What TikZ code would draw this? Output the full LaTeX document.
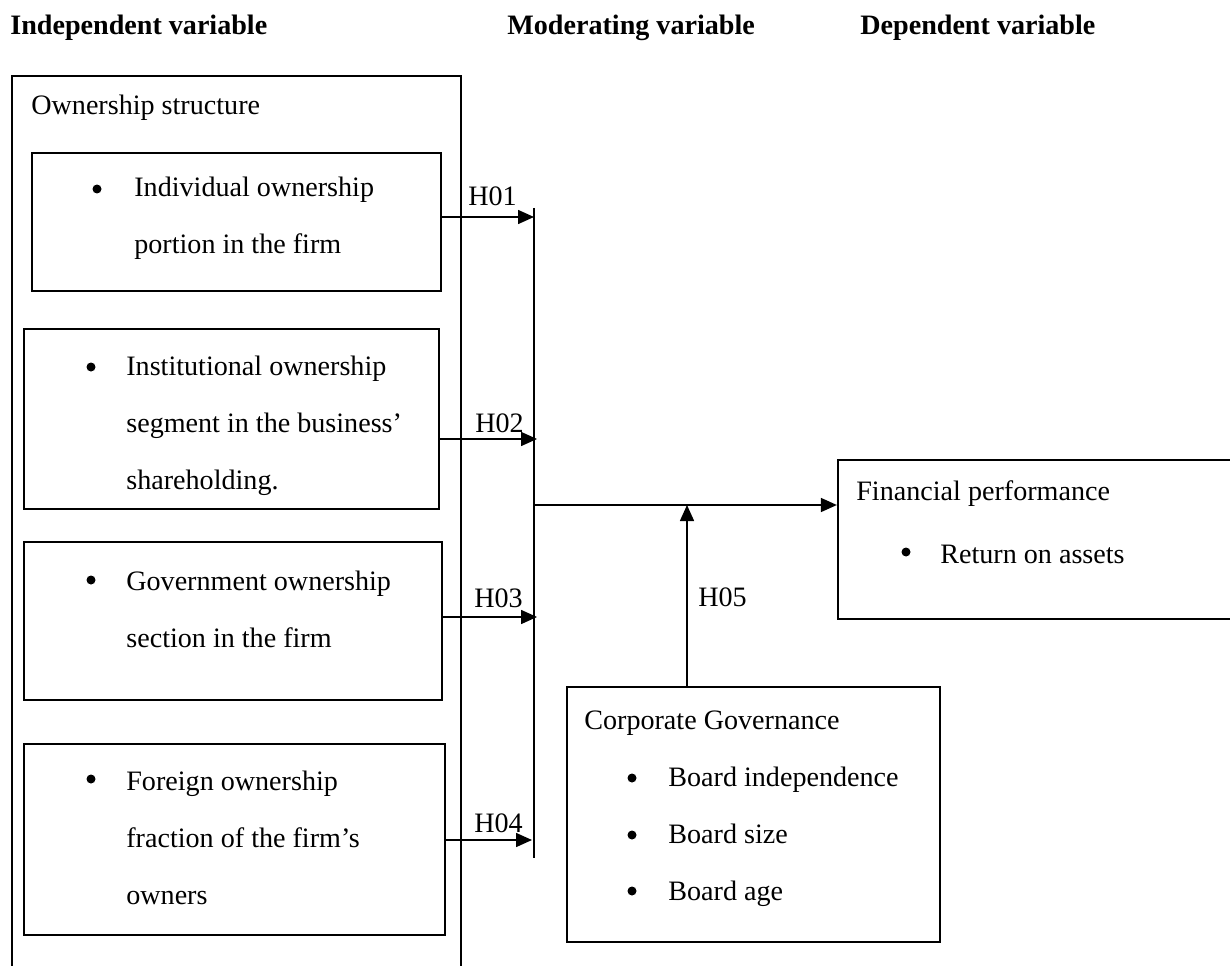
\documentclass[tikz,border=0pt]{standalone}
\usepackage{fontspec}
\setmainfont{Liberation Serif}
\usepackage{tikz}
\usetikzlibrary{arrows.meta, positioning, fit, calc}
\tikzset{
  frame/.style={draw=black, line width=1.3pt, inner sep=0pt},
  head/.style={anchor=west, inner sep=0pt, font=\fontsize{16}{19}\selectfont\bfseries},
  txt/.style={anchor=west, align=left, inner sep=0pt},
  dot/.style={circle, fill=black, inner sep=0pt, minimum size=0.18cm},
  hyp/.style={anchor=west, inner sep=0pt},
  arrowline/.style={-{Triangle[length=0.32cm, width=0.28cm]}, line width=0.9pt},
  barline/.style={line width=0.9pt},
}

\begin{document}
\begin{tikzpicture}[x=0.02cm, y=-0.02cm, font=\fontsize{16}{32.4}\selectfont]
\useasboundingbox (0,0) rectangle (1230,966);
\clip (0,0) rectangle (1230,966);

% headings
\node[head] (hind) at (10,28) {Independent variable};
\node[head] (hmod) at (507,28) {Moderating variable};
\node[head] (hdep) at (860,28) {Dependent variable};

% independent variable
\node[frame, fit={(12,76) (461,990)}] (own) {};
\node[txt] (owntitle) at (31,108) {Ownership structure};
\node[frame, fit={(32,153) (441,291)}] (box1) {};
\node[dot] (b1) at (97,189) {};
\node[txt] (t1) at (134,218) {Individual ownership\\portion in the firm};
\node[frame, fit={(24,329) (439,509)}] (box2) {};
\node[dot] (b2) at (91,367) {};
\node[txt] (t2) at (126,426) {Institutional ownership\\segment in the business'\\shareholding.};
\node[frame, fit={(24,542) (442,700)}] (box3) {};
\node[dot] (b3) at (91,580) {};
\node[txt] (t3) at (126,609) {Government ownership\\section in the firm};
\node[frame, fit={(24,744) (445,935)}] (box4) {};
\node[dot] (b4) at (91,779) {};
\node[txt] (t4) at (126,838) {Foreign ownership\\fraction of the firm's\\owners};

% dependent variable
\node[frame, fit={(838,460) (1250,619)}] (fin) {};
\node[txt] (fintitle) at (856,494) {Financial performance};
\node[dot] (b5) at (906,552) {};
\node[txt] (t5) at (940,554) {Return on assets};

% moderating variable
\node[frame, fit={(567,687) (940,942)}] (gov) {};
\node[txt] (govtitle) at (584,723) {Corporate Governance};
\node[dot] (b6) at (632,778) {};
\node[dot] (b7) at (632,835) {};
\node[dot] (b8) at (632,891) {};
\node[txt] (t6) at (668,837) {Board independence\\Board size\\Board age};

% collecting bar and hypotheses
\coordinate (barTop) at (534,208);
\coordinate (barBot) at (534,858);
\coordinate (h1) at (534,217);
\coordinate (h2) at (537,439);
\coordinate (h3) at (537,617);
\coordinate (h4) at (532,840);
\coordinate (join) at (534,505);
\coordinate (modpt) at (687,505);
\draw[barline] (barTop) -- (barBot);

\draw[arrowline] (box1.east |- h1) -- (h1);
\draw[arrowline] (box2.east |- h2) -- (h2);
\draw[arrowline] (box3.east |- h3) -- (h3);
\draw[arrowline] (box4.east |- h4) -- (h4);
\draw[arrowline] (join) -- (fin.west |- join);
\draw[arrowline] (gov.north -| modpt) -- (modpt);

\node[hyp] (lh1) at (468,196) {H01};
\node[hyp] (lh2) at (475,423) {H02};
\node[hyp] (lh3) at (474,598) {H03};
\node[hyp] (lh4) at (474,823) {H04};
\node[hyp] (lh5) at (698,597) {H05};
\end{tikzpicture}
\end{document}
